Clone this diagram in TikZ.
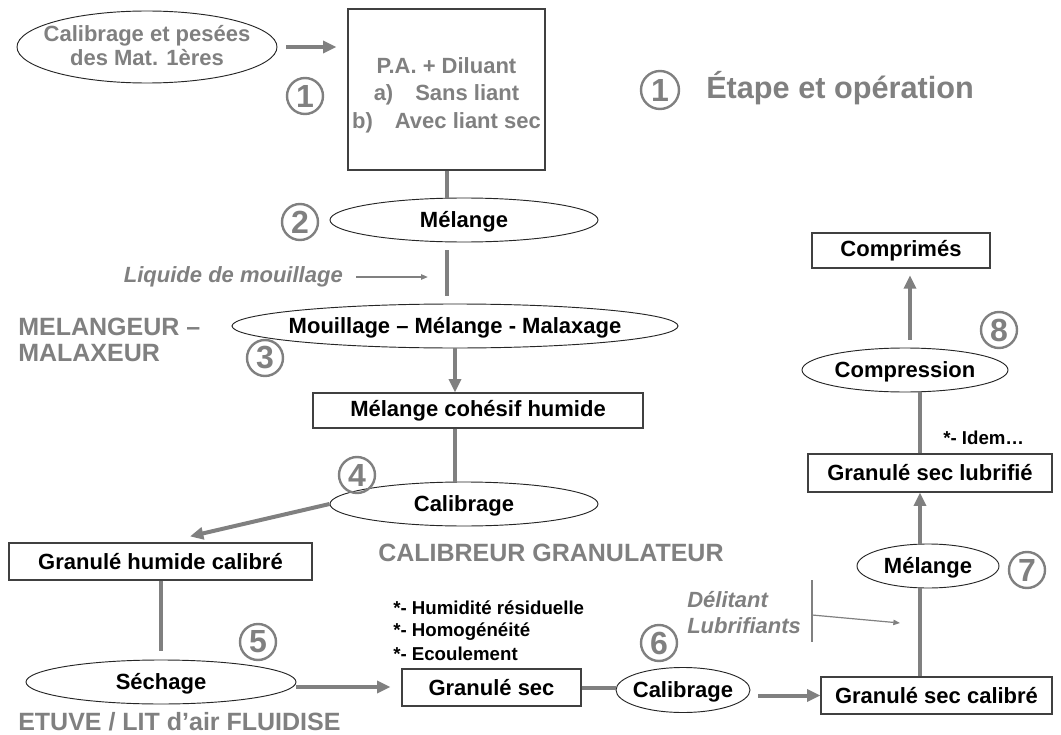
\documentclass[tikz,border=0pt]{standalone}
\usepackage{fontspec}
\setmainfont{Liberation Sans}
\usetikzlibrary{shapes.geometric,arrows.meta,calc}
\definecolor{gcol}{RGB}{128,128,128}
\newcommand{\zw}[1]{\makebox[0pt]{\raisebox{-1.5pt}[\height][\depth]{#1}}}
\begin{document}
\begin{tikzpicture}[x=0.75pt,y=-0.75pt,
  nf/.style={font=\fontsize{16.5}{19}\selectfont\bfseries},
  ell/.style={ellipse, draw=black!85, line width=0.7pt, inner sep=0pt, nf},
  box/.style={rectangle, draw=black!75, line width=0.9pt, inner sep=0pt, nf},
  garr/.style={draw=gcol, line width=3pt, -{Triangle[length=10pt,width=9pt]}},
  gline/.style={draw=gcol, line width=3pt},
  tarr/.style={draw=gcol, line width=0.9pt, -{Triangle[length=5pt,width=4pt]}},
  tline/.style={draw=gcol, line width=1.5pt},
  num/.style={circle, draw=gcol, line width=1.8pt, minimum size=27pt, inner sep=0pt, text=gcol, font=\fontsize{24}{24}\selectfont\bfseries},
  glab/.style={text=gcol, font=\fontsize{18.75}{19.5}\selectfont\bfseries, inner sep=0pt, anchor=west, align=left},
  blt/.style={font=\fontsize{14}{16}\selectfont\bfseries, inner sep=0pt, anchor=west},
  gital/.style={text=gcol, inner sep=0pt, font=\fontsize{16.5}{19.5}\selectfont\bfseries\itshape}
]
\useasboundingbox (0,0) rectangle (1061,735);

% ---- nodes ----
\node[ell, minimum width=195pt, minimum height=54pt, text=gcol, font=\fontsize{16.5}{18}\selectfont\bfseries] (calib) at (147,47)
  {\zw{\begin{tabular}{@{}c@{}}Calibrage et pesées\\des Mat. 1ères\end{tabular}}};
\node[box, minimum width=147.75pt, minimum height=120.75pt, text=gcol, font=\fontsize{16.5}{19.5}\selectfont\bfseries] (pa) at (446.5,89.5)
  {\raisebox{-4.5pt}[\height][\depth]{\begin{tabular}{@{}c@{}}P.A. + Diluant\\[1pt]a)\quad Sans liant\\[1pt]b)\quad Avec liant sec\end{tabular}}};
\node[ell, minimum width=201pt, minimum height=33pt] (mel1) at (464,220) {\zw{Mélange}};
\node[ell, minimum width=334.5pt, minimum height=33pt] (mou) at (455,326) {\zw{Mouillage – Mélange - Malaxage}};
\node[box, minimum width=247.5pt, minimum height=26.25pt] (coh) at (478,410.5) {Mélange cohésif humide};
\node[ell, minimum width=201pt, minimum height=33pt] (cal1) at (464,504) {\zw{Calibrage}};
\node[box, minimum width=227.25pt, minimum height=27.75pt] (hum) at (160.5,561.5) {Granulé humide calibré};
\node[ell, minimum width=202.5pt, minimum height=33pt] (sech) at (161,682) {\zw{Séchage}};
\node[box, minimum width=134.25pt, minimum height=27.75pt] (gsec) at (491.5,687.5) {Granulé sec};
\node[ell, minimum width=100.5pt, minimum height=33.75pt] (cal2) at (683,690) {\zw{Calibrage}};
\node[box, minimum width=173.25pt, minimum height=27.75pt] (gcal) at (936.5,695.5) {Granulé sec calibré};
\node[ell, minimum width=106.5pt, minimum height=33pt] (mel2) at (928,566) {\zw{Mélange}};
\node[box, minimum width=183pt, minimum height=28.5pt] (glub) at (930,473) {Granulé sec lubrifié};
\node[ell, minimum width=154.5pt, minimum height=33pt] (comp) at (905,370) {\zw{Compression}};
\node[box, minimum width=133.5pt, minimum height=26.25pt] (compr) at (901,250.5) {Comprimés};

% ---- circled numbers ----
\node[num] (n1) at (305,96) {1};
\node[num] (n2) at (300,222) {2};
\node[num] (n3) at (265,358) {3};
\node[num] (n4) at (357,475) {4};
\node[num] (n5) at (258,642) {5};
\node[num] (n6) at (659,643) {6};
\node[num] (n7) at (1027,570) {7};
\node[num] (n8) at (999,330) {8};
\node[num, minimum size=28.5pt] (n0) at (660,90) {1};
\node[anchor=west, inner sep=0pt, text=gcol, font=\fontsize{23}{26}\selectfont\bfseries] (title) at (706,88) {Étape et opération};

% ---- labels ----
\node[glab] (melx) at (18,340) {MELANGEUR –\\MALAXEUR};
\node[glab] (calg) at (378,553) {CALIBREUR GRANULATEUR};
\node[glab] (etuve) at (18,722) {ETUVE / LIT d’air FLUIDISE};
\node[blt] (b1) at (393,608) {*- Humidité résiduelle};
\node[blt] (b2) at (393,632) {*- Homogénéité};
\node[blt] (b3) at (393,654) {*- Ecoulement};
\node[blt] (idem) at (943,438) {*- Idem…};
\node[gital, anchor=east] (liq) at (343,277) {Liquide de mouillage};
\node[gital, anchor=west, align=left] (delit) at (687,613) {Délitant\\Lubrifiants};

% ---- connectors ----
\draw[garr, shorten <=6.75pt, shorten >=8.25pt] (calib.east) -- (calib.east -| pa.west);
\draw[gline] (pa.south) -- (pa.south |- mel1.north);
\draw[tarr, shorten <=10pt, shorten >=14pt] (liq.east) -- (liq.east -| pa.south);
\draw[gline, shorten <=6pt, shorten >=6pt] (pa.south |- mel1.south) -- (pa.south |- mou.north);
\draw[garr] (mou.south) -- (mou.south |- coh.north);
\draw[gline] (mou.south |- coh.south) -- (mou.south |- cal1.north);
\coordinate (humin) at ($(hum.north)+(29.5,-6)$);
\draw[garr] (cal1.west) -- (humin);
\draw[gline, shorten >=6.75pt] (hum.south) -- (hum.south |- sech.north);
\coordinate (s1) at ($(sech.east)+(0,5)$);
\draw[garr, shorten >=8.25pt] (s1) -- (s1 -| gsec.west);
\draw[gline] (gsec.east) -- (gsec.east -| cal2.west);
\draw[garr, shorten <=6pt] (gcal.west -| cal2.east) -- (gcal.west);
\coordinate (cx) at (920,0);
\draw[gline] (cx |- gcal.north) -- (cx |- mel2.south);
\draw[garr] (cx |- mel2.north) -- (cx |- glub.south);
\draw[gline] (cx |- glub.north) -- (cx |- comp.south);
\coordinate (cx2) at (910,0);
\draw[garr, shorten <=6pt, shorten >=5pt] (cx2 |- comp.north) -- (cx2 |- compr.south);
\coordinate (dt) at (812,580);
\coordinate (db) at (812,642);
\draw[tline] (dt) -- (db);
\coordinate (da) at (812,615);
\coordinate (de) at (900,623);
\draw[tarr] (da) -- (de);
\end{tikzpicture}
\end{document}
